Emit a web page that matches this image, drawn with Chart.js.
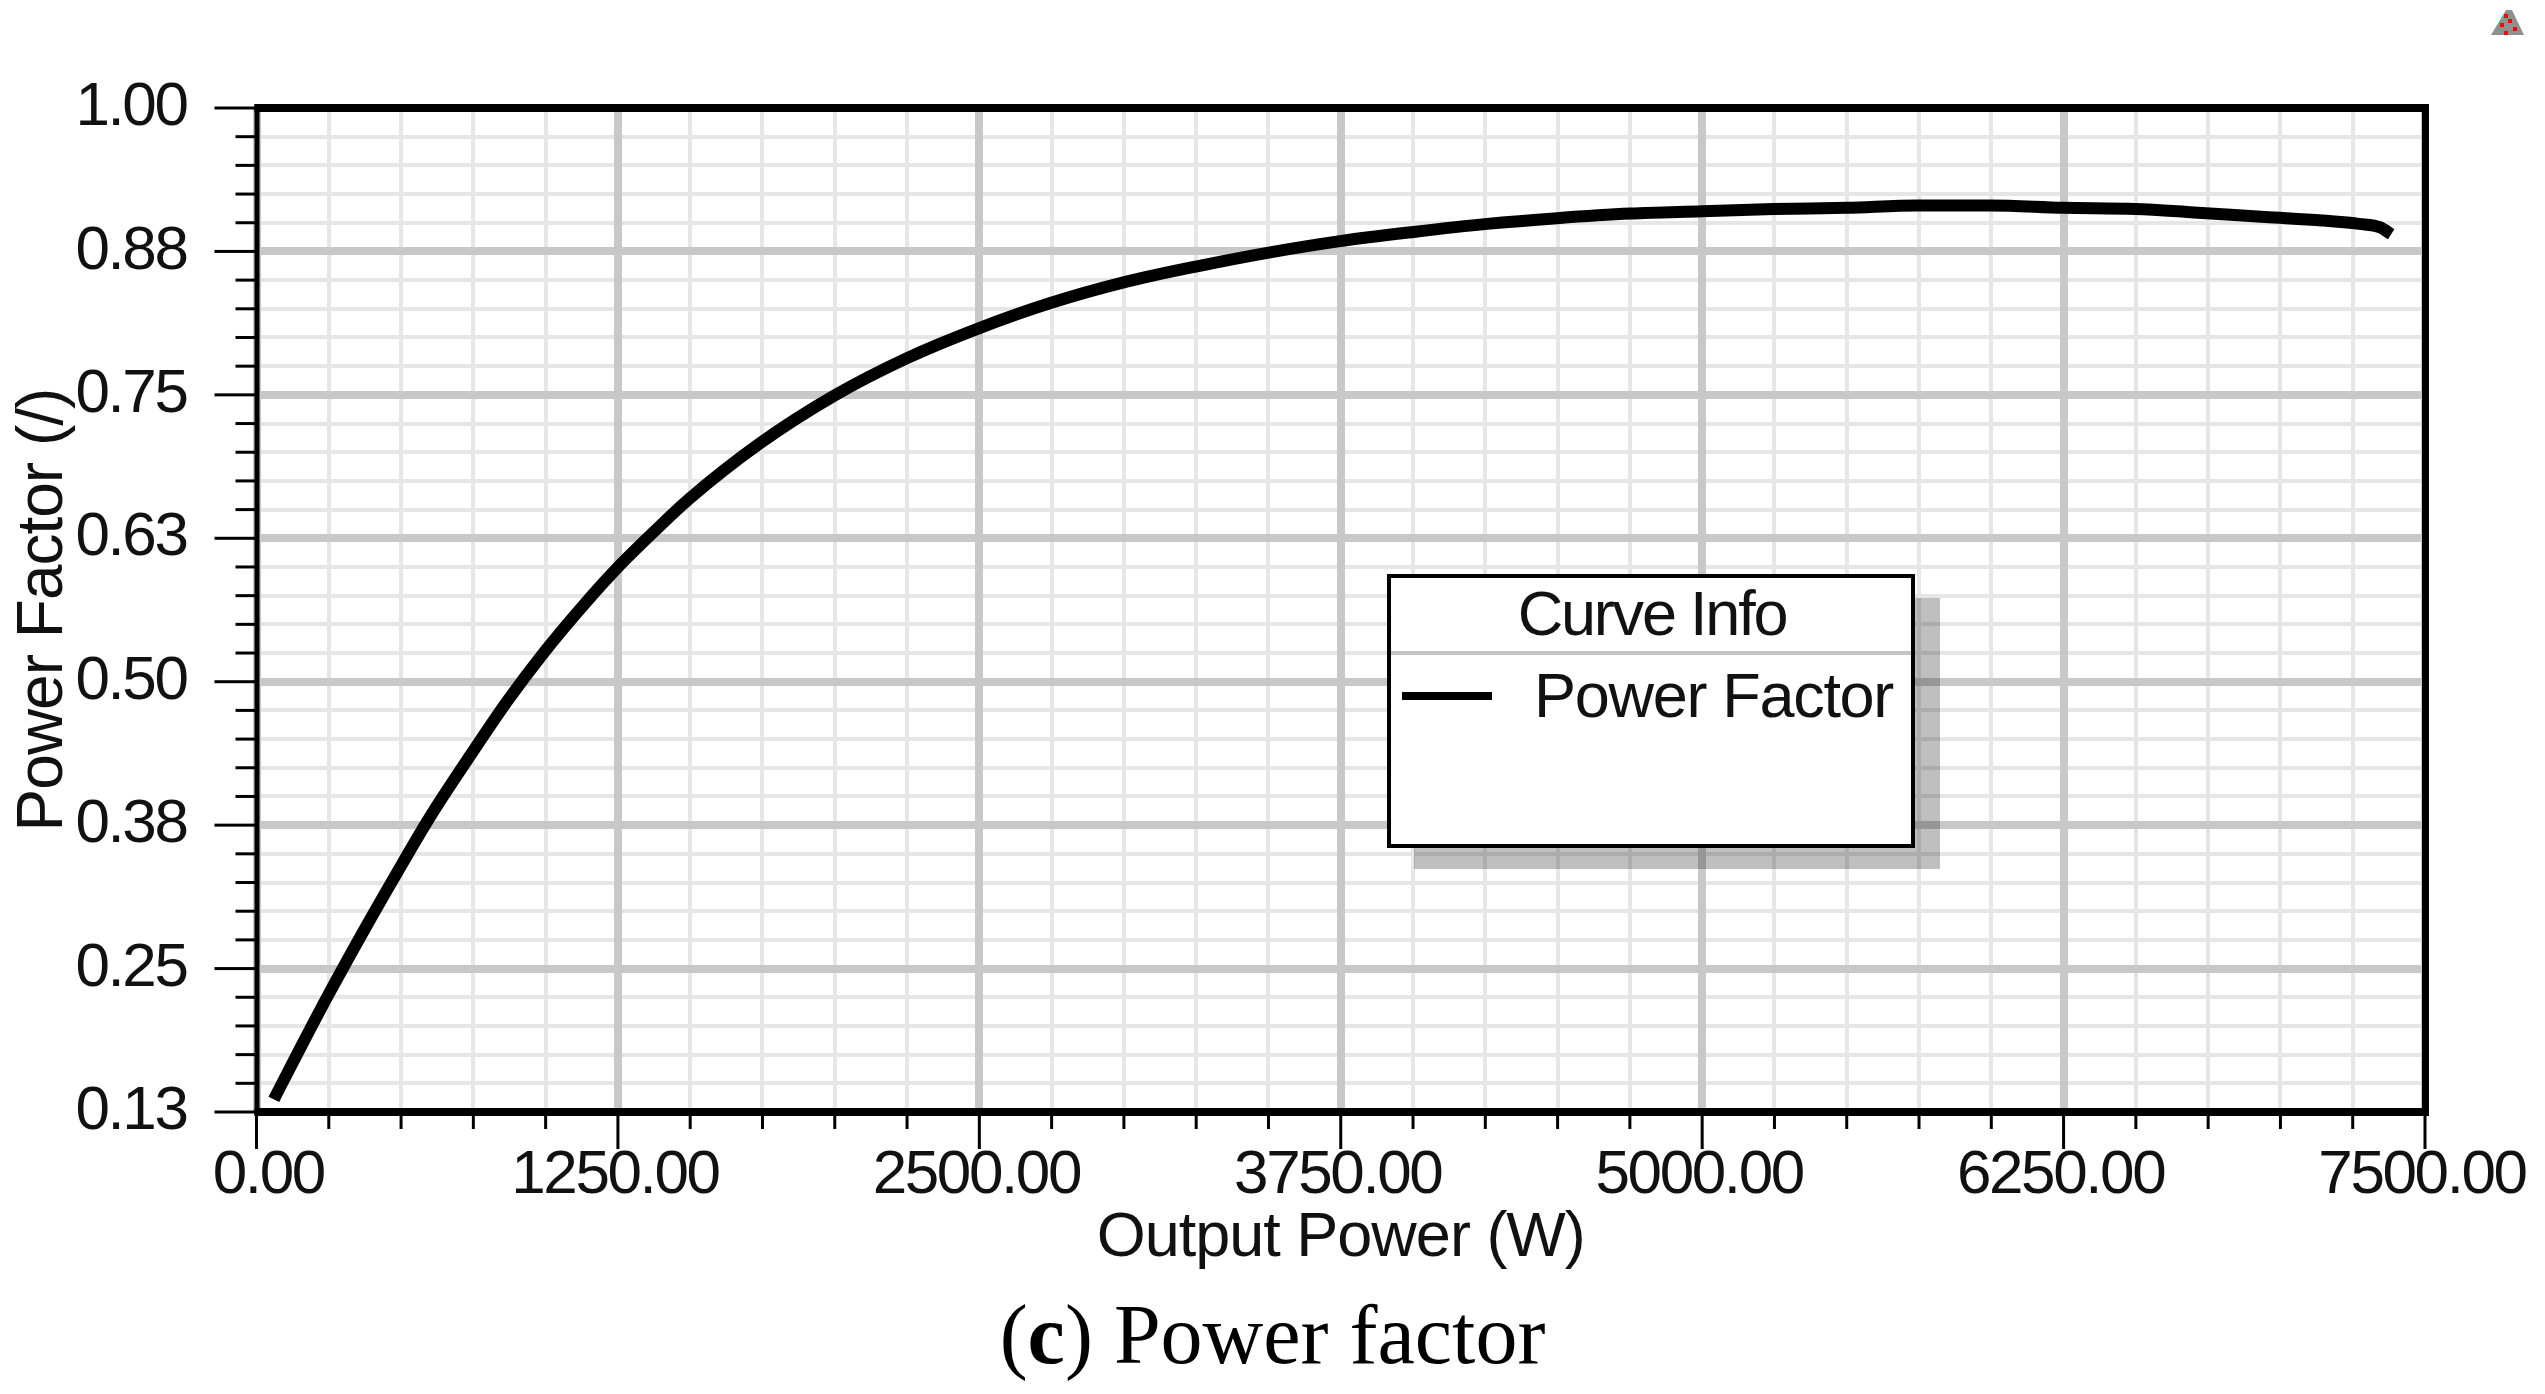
<!DOCTYPE html>
<html>
<head>
<meta charset="utf-8">
<script src="https://cdn.jsdelivr.net/npm/chart.js@4/dist/chart.umd.js"></script>
<style>
  html, body { margin: 0; background: #fff; }
  #wrap { position: relative; width: 2545px; height: 1394px; overflow: hidden; }
  #chart { position: absolute; left: 0; top: 0; }
  #caption {
    position: absolute; left: 0; width: 2545px; top: 1285px; text-align: center;
    font: 84px "Liberation Serif", serif; color: #000; line-height: 100px;
  }
</style>
</head>
<body>
<div id="wrap">
  <canvas id="chart" width="2545" height="1394"></canvas>
  <div id="caption">(<b>c</b>) Power factor</div>
</div>
<script>
const outputPower = [60, 152, 244, 371, 487, 602, 740, 867, 999, 1132, 1247, 1380, 1495, 1737, 1996, 2250, 2498, 2746, 2999, 3253, 3501, 3748, 4002, 4256, 4498, 4752, 5000, 5247, 5501, 5743, 5997, 6249, 6498, 6700, 6946, 7144, 7272, 7345, 7383]
const powerFactor = [0.136, 0.181, 0.225, 0.283, 0.334, 0.383, 0.436, 0.483, 0.527, 0.567, 0.599, 0.632, 0.659, 0.707, 0.749, 0.782, 0.808, 0.830, 0.848, 0.862, 0.874, 0.884, 0.892, 0.899, 0.904, 0.908, 0.910, 0.912, 0.913, 0.915, 0.915, 0.913, 0.912, 0.909, 0.905, 0.902, 0.899, 0.896, 0.890]

const FONT = '"Liberation Sans", Arial, sans-serif'
const MAJOR = "#c8c8c8"
const MINOR = "#e6e6e6"

// every fifth tick is a major one on both axes
const isMajor = (i) => i % 5 === 0

function gridOptions() {
  return {
    drawTicks: false,
    color: (c) => (isMajor(c.index) ? MAJOR : MINOR),
    lineWidth: (c) => (isMajor(c.index) ? 8 : 4)
  }
}

const frame = {
  id: "frame",
  beforeDraw(chart) {
    // darken so the major grid lines stay on top of the minor ones
    chart.ctx.globalCompositeOperation = "darken"
    chart.ctx.letterSpacing = "-1px"
  },
  beforeDatasetsDraw(chart) {
    chart.ctx.globalCompositeOperation = "source-over"
  },
  afterDatasetsDraw(chart) {
    chart.ctx.letterSpacing = "-2.4px"
  },
  afterDraw(chart) {
    const { ctx, chartArea: a, scales } = chart
    ctx.save()
    ctx.letterSpacing = "0px"
    ctx.fillStyle = "#000"

    // tick marks, the library only has one length per axis
    scales.x.ticks.forEach((t, i) => {
      const px = scales.x.getPixelForValue(t.value)
      ctx.fillRect(px - 1.5, a.bottom, 3, isMajor(i) ? 37 : 17)
    })
    scales.y.ticks.forEach((t, i) => {
      const py = scales.y.getPixelForValue(t.value)
      ctx.fillRect(a.left - (isMajor(i) ? 42 : 21), py - 1.5, isMajor(i) ? 42 : 21, 3)
    })

    // plot frame
    ctx.fillRect(a.left - 2, a.top - 4, a.width + 5, 8)
    ctx.fillRect(a.left - 2, a.bottom - 4, a.width + 6, 8)
    ctx.fillRect(a.left - 2, a.top - 4, 5, a.height + 8)
    ctx.fillRect(a.right - 3, a.top - 4, 7, a.height + 8)

    drawLegend(ctx)
    drawWarning(ctx)
    ctx.restore()
  }
}

function drawLegend(ctx) {
  ctx.fillStyle = "rgba(0,0,0,0.25)"
  ctx.fillRect(1414, 598, 526, 271)
  ctx.fillStyle = "#fff"
  ctx.fillRect(1389, 576, 524, 270)
  ctx.strokeStyle = "#000"
  ctx.lineWidth = 4
  ctx.strokeRect(1389, 576, 524, 270)
  ctx.fillStyle = "#c4c4c4"
  ctx.fillRect(1391, 651, 520, 4)

  ctx.fillStyle = "#111"
  ctx.font = "63px " + FONT
  ctx.textBaseline = "alphabetic"
  ctx.textAlign = "center"
  ctx.letterSpacing = "-2.2px"
  ctx.fillText("Curve Info", 1652, 635)
  ctx.textAlign = "left"
  ctx.letterSpacing = "-1.3px"
  ctx.fillText("Power Factor", 1534, 717)

  ctx.fillStyle = "#000"
  ctx.fillRect(1402, 692, 90, 8)
}

function drawWarning(ctx) {
  ctx.fillStyle = "#909090"
  ctx.beginPath()
  ctx.moveTo(2506, 10)
  ctx.lineTo(2512, 10)
  ctx.lineTo(2524, 35)
  ctx.lineTo(2491, 35)
  ctx.closePath()
  ctx.fill()
  ctx.fillStyle = "#f00"
  ;[[2504, 14], [2508, 19], [2500, 23], [2513, 27], [2504, 31]].forEach(([x, y]) => ctx.fillRect(x, y, 4, 4))
}

new Chart(document.getElementById("chart"), {
  type: "line",
  data: {
    labels: outputPower,
    datasets: [{
      label: "Power Factor",
      data: outputPower.map((x, i) => ({ x, y: powerFactor[i] })),
      borderColor: "#000",
      borderWidth: 12,
      pointRadius: 0,
      cubicInterpolationMode: "monotone"
    }]
  },
  plugins: [frame],
  options: {
    responsive: false,
    devicePixelRatio: 1,
    animation: false,
    layout: { padding: { top: 108, right: 120, bottom: 123.5, left: 0 } },
    plugins: { legend: { display: false }, tooltip: { enabled: false } },
    scales: {
      x: {
        type: "linear",
        min: 0,
        max: 7500,
        afterFit: (s) => {
          s.height = 158.5
          s.paddingLeft = 0
          s.paddingRight = 0
        },
        border: { display: false },
        grid: gridOptions(),
        ticks: {
          z: 1,
          stepSize: 250,
          autoSkip: false,
          maxRotation: 0,
          padding: 33,
          labelOffset: -3,
          color: "#111",
          font: { family: FONT, size: 62, lineHeight: 1 },
          callback: (v, i) => (isMajor(i) ? (i === 0 ? "  " : "") + v.toFixed(2) : "")
        },
        title: {
          display: true,
          text: "Output Power (W)",
          color: "#111",
          padding: 0,
          font: { family: FONT, size: 63, lineHeight: 1 }
        }
      },
      y: {
        min: 0.125,
        max: 1,
        afterFit: (s) => {
          s.width = 256.5
          s.paddingTop = 0
          s.paddingBottom = 0
        },
        border: { display: false },
        grid: gridOptions(),
        ticks: {
          z: 1,
          stepSize: 0.025,
          autoSkip: false,
          padding: 70,
          color: "#111",
          font: { family: FONT, size: 62, lineHeight: 1 },
          callback: (v, i) => (isMajor(i) ? v.toFixed(2) : "")
        },
        title: {
          display: true,
          text: "Power Factor (/)",
          color: "#111",
          padding: { top: 12.5, bottom: 0 },
          font: { family: FONT, size: 64, lineHeight: 1 }
        }
      }
    }
  }
})
</script>
</body>
</html>
